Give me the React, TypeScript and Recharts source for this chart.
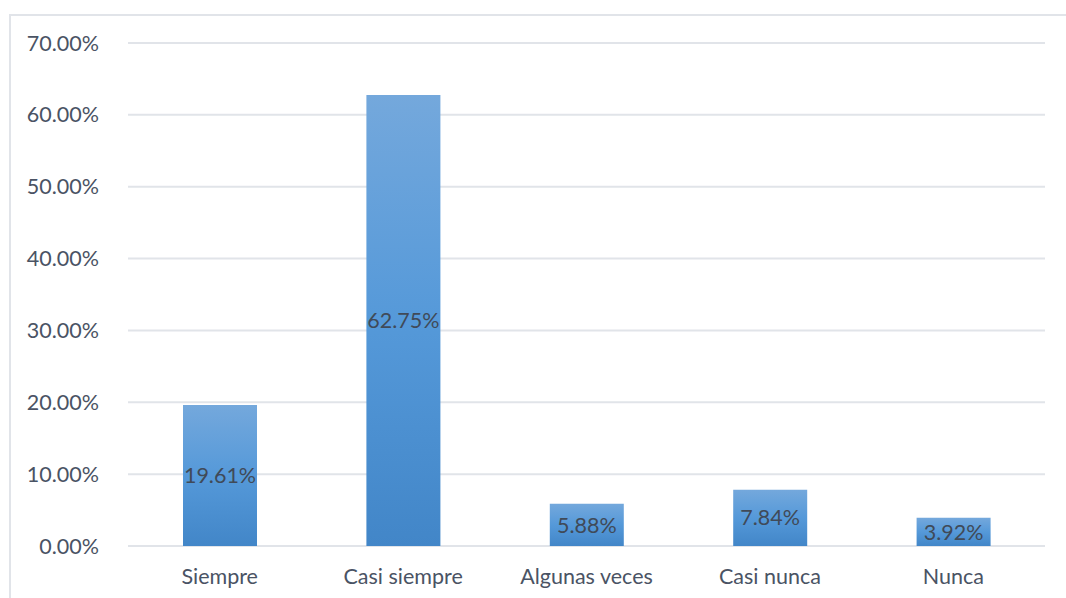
import { BarChart, Bar, XAxis, YAxis, CartesianGrid, LabelList } from "recharts";

// respuestas de la encuesta (porcentaje)
const categories = ["Siempre", "Casi siempre", "Algunas veces", "Casi nunca", "Nunca"];
const percentages = [19.61, 62.75, 5.88, 7.84, 3.92];
const yTicks = [0, 10, 20, 30, 40, 50, 60, 70];

const data = categories.map((name, i) => ({ name, value: percentages[i] }));

const FONT = "Lato, 'Noto Sans', sans-serif";
const FONT_SIZE = 21.5;
const TEXT_COLOR = "#4a5364";
const GRID_COLOR = "#e1e4e9";

export default function App() {
  return (
    <div
      style={{
        position: "absolute",
        left: 9,
        top: 14,
        width: 1056,
        height: 583,
        borderLeft: `2px solid ${GRID_COLOR}`,
        borderTop: `2px solid ${GRID_COLOR}`,
        fontFamily: FONT,
      }}
    >
      <BarChart
        width={1055}
        height={582}
        data={data}
        margin={{ top: 27, right: 21, left: 0, bottom: 0 }}
        barSize={74}
      >
        <defs>
          <linearGradient id="barFill" x1="0" y1="0" x2="0" y2="1">
            <stop offset="0%" stopColor="#74a8dc" />
            <stop offset="50%" stopColor="#5599d9" />
            <stop offset="100%" stopColor="#4286c8" />
          </linearGradient>
        </defs>
        <CartesianGrid vertical={false} stroke={GRID_COLOR} strokeWidth={2} />
        <XAxis
          dataKey="name"
          axisLine={false}
          tickLine={false}
          tickSize={0}
          tickMargin={23}
          height={52}
          interval={0}
          tick={{ fill: TEXT_COLOR, fontSize: FONT_SIZE, fontFamily: FONT }}
        />
        <YAxis
          width={117}
          domain={[0, 70]}
          ticks={yTicks}
          axisLine={false}
          tickLine={false}
          tickSize={0}
          tickMargin={29}
          tickFormatter={(v: number) => `${v.toFixed(2)}%`}
          tick={{ fill: TEXT_COLOR, fontSize: FONT_SIZE, fontFamily: FONT }}
        />
        <Bar dataKey="value" fill="url(#barFill)" isAnimationActive={false}>
          <LabelList
            dataKey="value"
            position="center"
            formatter={(v: number) => `${v.toFixed(2)}%`}
            style={{ fill: "#404a58", fontSize: FONT_SIZE, fontFamily: FONT }}
          />
        </Bar>
      </BarChart>
    </div>
  );
}
